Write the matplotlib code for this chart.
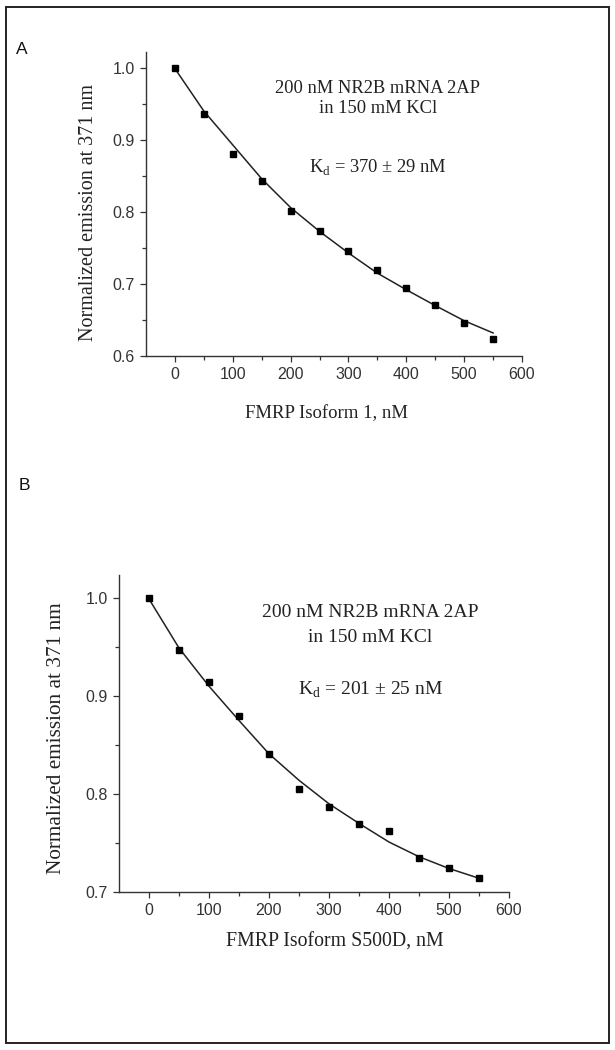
import numpy as np
import matplotlib
matplotlib.use("Agg")
import matplotlib.pyplot as plt
from matplotlib.patches import Rectangle

plt.rcParams['mathtext.fontset'] = 'custom'
plt.rcParams['mathtext.rm'] = 'Liberation Serif'

# measured points, nM
conc = [0, 50, 100, 150, 200, 250, 300, 350, 400, 450, 500, 550]
emis_iso1 = [1.000, 0.936, 0.881, 0.843, 0.801, 0.774, 0.746, 0.720, 0.695, 0.671, 0.646, 0.624]
emis_s500d = [1.000, 0.947, 0.914, 0.880, 0.841, 0.805, 0.787, 0.769, 0.762, 0.735, 0.725, 0.714]

# fitted curves
fit_iso1 = [0.999, 0.940, 0.893, 0.846, 0.806, 0.773, 0.743, 0.715, 0.692, 0.670, 0.649, 0.632]
fit_s500d = [0.999, 0.949, 0.910, 0.875, 0.841, 0.814, 0.790, 0.770, 0.751, 0.736, 0.724, 0.714]

xlabels = ["FMRP Isoform 1, nM", "FMRP Isoform S500D, nM"]
kd_text = ["K$_\\mathrm{d}$ = 370 \u00b1 29 nM", "K$_\\mathrm{d}$ = 201 \u00b1 25 nM"]

W, H = 615, 1050
fig = plt.figure(figsize=(W / 100, H / 100), dpi=100)

# outer frame
fig.patches.append(Rectangle((6 / W, 1 - 1043 / H), 603 / W, 1036 / H,
                             transform=fig.transFigure, fill=False,
                             edgecolor="#222222", linewidth=1.4))

serif = "Liberation Serif"
sans = "Liberation Sans"


def panel(rect, x, y, fx, fy, ylim, yticks, xlabel, kd, txt_pos, ylab_pos, xlab_pos, fs):
    ax = fig.add_axes(rect)
    ax.plot(x, fy, "-", color="#222222", lw=1.1)
    ax.plot(x, y, "s", color="black", ms=4.2)
    ax.set_xlim(-50, 600)
    ax.set_ylim(*ylim)
    ax.set_xticks(np.arange(0, 601, 100))
    ax.set_xticks(np.arange(50, 600, 100), minor=True)
    ax.set_yticks(yticks)
    ax.set_yticks(np.array(yticks[:-1]) + 0.05, minor=True)
    ax.set_yticklabels(["%.1f" % v for v in yticks])
    for s in ["top", "right"]:
        ax.spines[s].set_visible(False)
    for s in ["left", "bottom"]:
        ax.spines[s].set_color("#333333")
        ax.spines[s].set_linewidth(1.0)
    ax.tick_params(which="major", direction="out", length=4, width=0.9,
                   color="#333333", labelsize=11.5, labelcolor="#333333", pad=4)
    ax.tick_params(which="minor", direction="out", length=3, width=0.9, color="#333333")
    for lab in ax.get_xticklabels() + ax.get_yticklabels():
        lab.set_family(sans)
    ylab_fs, xlab_fs, txt_fs = fs
    ax.set_ylabel("Normalized emission at 371 nm", fontsize=ylab_fs, family=serif, color="#222222")
    ax.yaxis.set_label_coords(*ylab_pos)
    ax.set_xlabel(xlabel, fontsize=xlab_fs, family=serif, color="#222222")
    ax.xaxis.set_label_coords(*xlab_pos)
    tx, ty1, ty2, ty3 = txt_pos
    ax.text(tx, ty1, "200 nM NR2B mRNA 2AP", ha="center", va="center",
            fontsize=txt_fs, family=serif, color="#222222")
    ax.text(tx, ty2, "in 150 mM KCl", ha="center", va="center",
            fontsize=txt_fs, family=serif, color="#222222")
    ax.text(tx, ty3, kd, ha="center", va="center",
            fontsize=txt_fs, family=serif, color="#222222")
    return ax


panel([146 / W, 1 - 356 / H, 376 / W, 304 / H], conc, emis_iso1, conc, fit_iso1,
      (0.6, 1.022), [0.6, 0.7, 0.8, 0.9, 1.0], xlabels[0], kd_text[0],
      (351, 0.972, 0.943, 0.863), (-0.128, 0.472), (0.481, -0.161), (14.5, 13.5, 13.3))

panel([119 / W, 1 - 892 / H, 390 / W, 317 / H], conc, emis_s500d, conc, fit_s500d,
      (0.7, 1.0235), [0.7, 0.8, 0.9, 1.0], xlabels[1], kd_text[1],
      (369, 0.985, 0.960, 0.906), (-0.136, 0.486), (0.554, -0.129), (15.3, 14.3, 14))

fig.text(22 / W, 1 - 49 / H, "A", fontsize=12.5, family=sans, ha="center", va="center", color="#111111")
fig.text(24 / W, 1 - 485 / H, "B", fontsize=12.5, family=sans, ha="center", va="center", color="#111111")

fig.savefig("out.png", dpi=100, facecolor="white")
